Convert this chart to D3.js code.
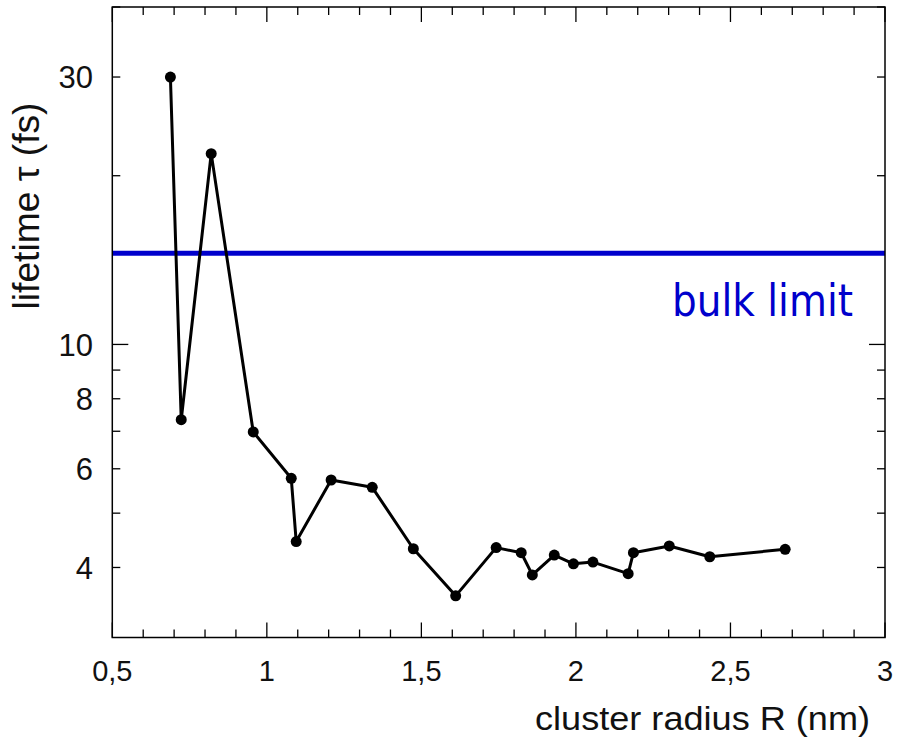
<!DOCTYPE html>
<html><head><meta charset="utf-8">
<script src="https://cdn.jsdelivr.net/npm/d3@7"></script>
<style>body{margin:0;background:#fff}svg{display:block}</style>
</head><body>
<svg id="c" width="899" height="742"></svg>
<script>
const radius = [0.688,0.723,0.82,0.956,1.079,1.095,1.208,1.341,1.474,1.611,1.742,1.823,1.859,1.930,1.992,2.055,2.169,2.186,2.302,2.433,2.677];
const lifetime = [30.0,7.34,21.9,6.98,5.77,4.45,5.73,5.56,4.32,3.56,4.34,4.25,3.88,4.21,4.06,4.09,3.90,4.25,4.37,4.18,4.31];
const bulkLimit = 14.55;
const xTickValues = [0.5,1,1.5,2,2.5,3];
const xTickLabels = ["0,5","1","1,5","2","2,5","3"];
const yTickValues = [4,6,8,10,30];
const yTickLabels = ["4","6","8","10","30"];
const yMinorValues = [5,7,9,20,40];

const L=112.3,R=885,T=7,B=637.5;
const svg=d3.select("#c");
const x=d3.scaleLinear().domain([0.5,3]).range([L,R]);
const y=d3.scaleLog().domain([3,40]).range([B,T]);

// bulk line
svg.append("line").attr("x1",L).attr("x2",R).attr("y1",y(bulkLimit)).attr("y2",y(bulkLimit))
  .attr("stroke","#0000cc").attr("stroke-width",5);
svg.append("text").attr("x",672).attr("y",316).attr("fill","#0000cc")
  .attr("font-family","DejaVu Sans, sans-serif").attr("font-size",44)
  .attr("textLength",181).attr("lengthAdjust","spacingAndGlyphs").text("bulk limit");

// ticks
const tg=svg.append("g").attr("stroke","#000").attr("stroke-width",1.3);
const xMinor=d3.range(5,31).map(v=>v/10);
xMinor.forEach(v=>{
  const major=Math.abs(v*2-Math.round(v*2))<1e-6;
  const len=major?15:8;
  tg.append("line").attr("x1",x(v)).attr("x2",x(v)).attr("y1",B).attr("y2",B-len);
  tg.append("line").attr("x1",x(v)).attr("x2",x(v)).attr("y1",T).attr("y2",T+len);
});
yTickValues.concat(yMinorValues).forEach(v=>{
  const len=v===10?16:8;
  tg.append("line").attr("x1",L).attr("x2",L+len).attr("y1",y(v)).attr("y2",y(v));
  tg.append("line").attr("x1",R).attr("x2",R-len).attr("y1",y(v)).attr("y2",y(v));
});

// frame
svg.append("rect").attr("x",L).attr("y",T).attr("width",R-L).attr("height",B-T)
  .attr("fill","none").attr("stroke","#000").attr("stroke-width",1.5);

// tick labels
const font="Liberation Sans, Arial, Helvetica, sans-serif";
xTickValues.forEach((v,i)=>{
  svg.append("text").attr("x",x(v)).attr("y",681).attr("text-anchor","middle")
    .attr("font-family",font).attr("font-size",29).attr("fill","#111").text(xTickLabels[i]);
});
yTickValues.forEach((v,i)=>{
  svg.append("text").attr("x",93).attr("y",y(v)).attr("dy","0.36em").attr("text-anchor","end")
    .attr("font-family",font).attr("font-size",31).attr("fill","#111").text(yTickLabels[i]);
});

// axis titles
svg.append("text").attr("x",870).attr("y",730).attr("text-anchor","end")
  .attr("font-family",font).attr("font-size",34).attr("fill","#111")
  .attr("textLength",335).attr("lengthAdjust","spacingAndGlyphs").text("cluster radius R (nm)");
svg.append("text").attr("transform","translate(39,206) rotate(-90)").attr("text-anchor","middle")
  .attr("font-family",font).attr("font-size",36).attr("fill","#111")
  .attr("textLength",207).attr("lengthAdjust","spacingAndGlyphs").text("lifetime τ (fs)");

// data
const pts=radius.map((r,i)=>[r,lifetime[i]]);
svg.append("path").datum(pts)
  .attr("d",d3.line().x(d=>x(d[0])).y(d=>y(d[1])))
  .attr("fill","none").attr("stroke","#000").attr("stroke-width",3).attr("stroke-linejoin","round");
svg.selectAll("circle.p").data(pts).enter().append("circle").attr("class","p")
  .attr("cx",d=>x(d[0])).attr("cy",d=>y(d[1])).attr("r",5.5).attr("fill","#000");
</script>
</body></html>
